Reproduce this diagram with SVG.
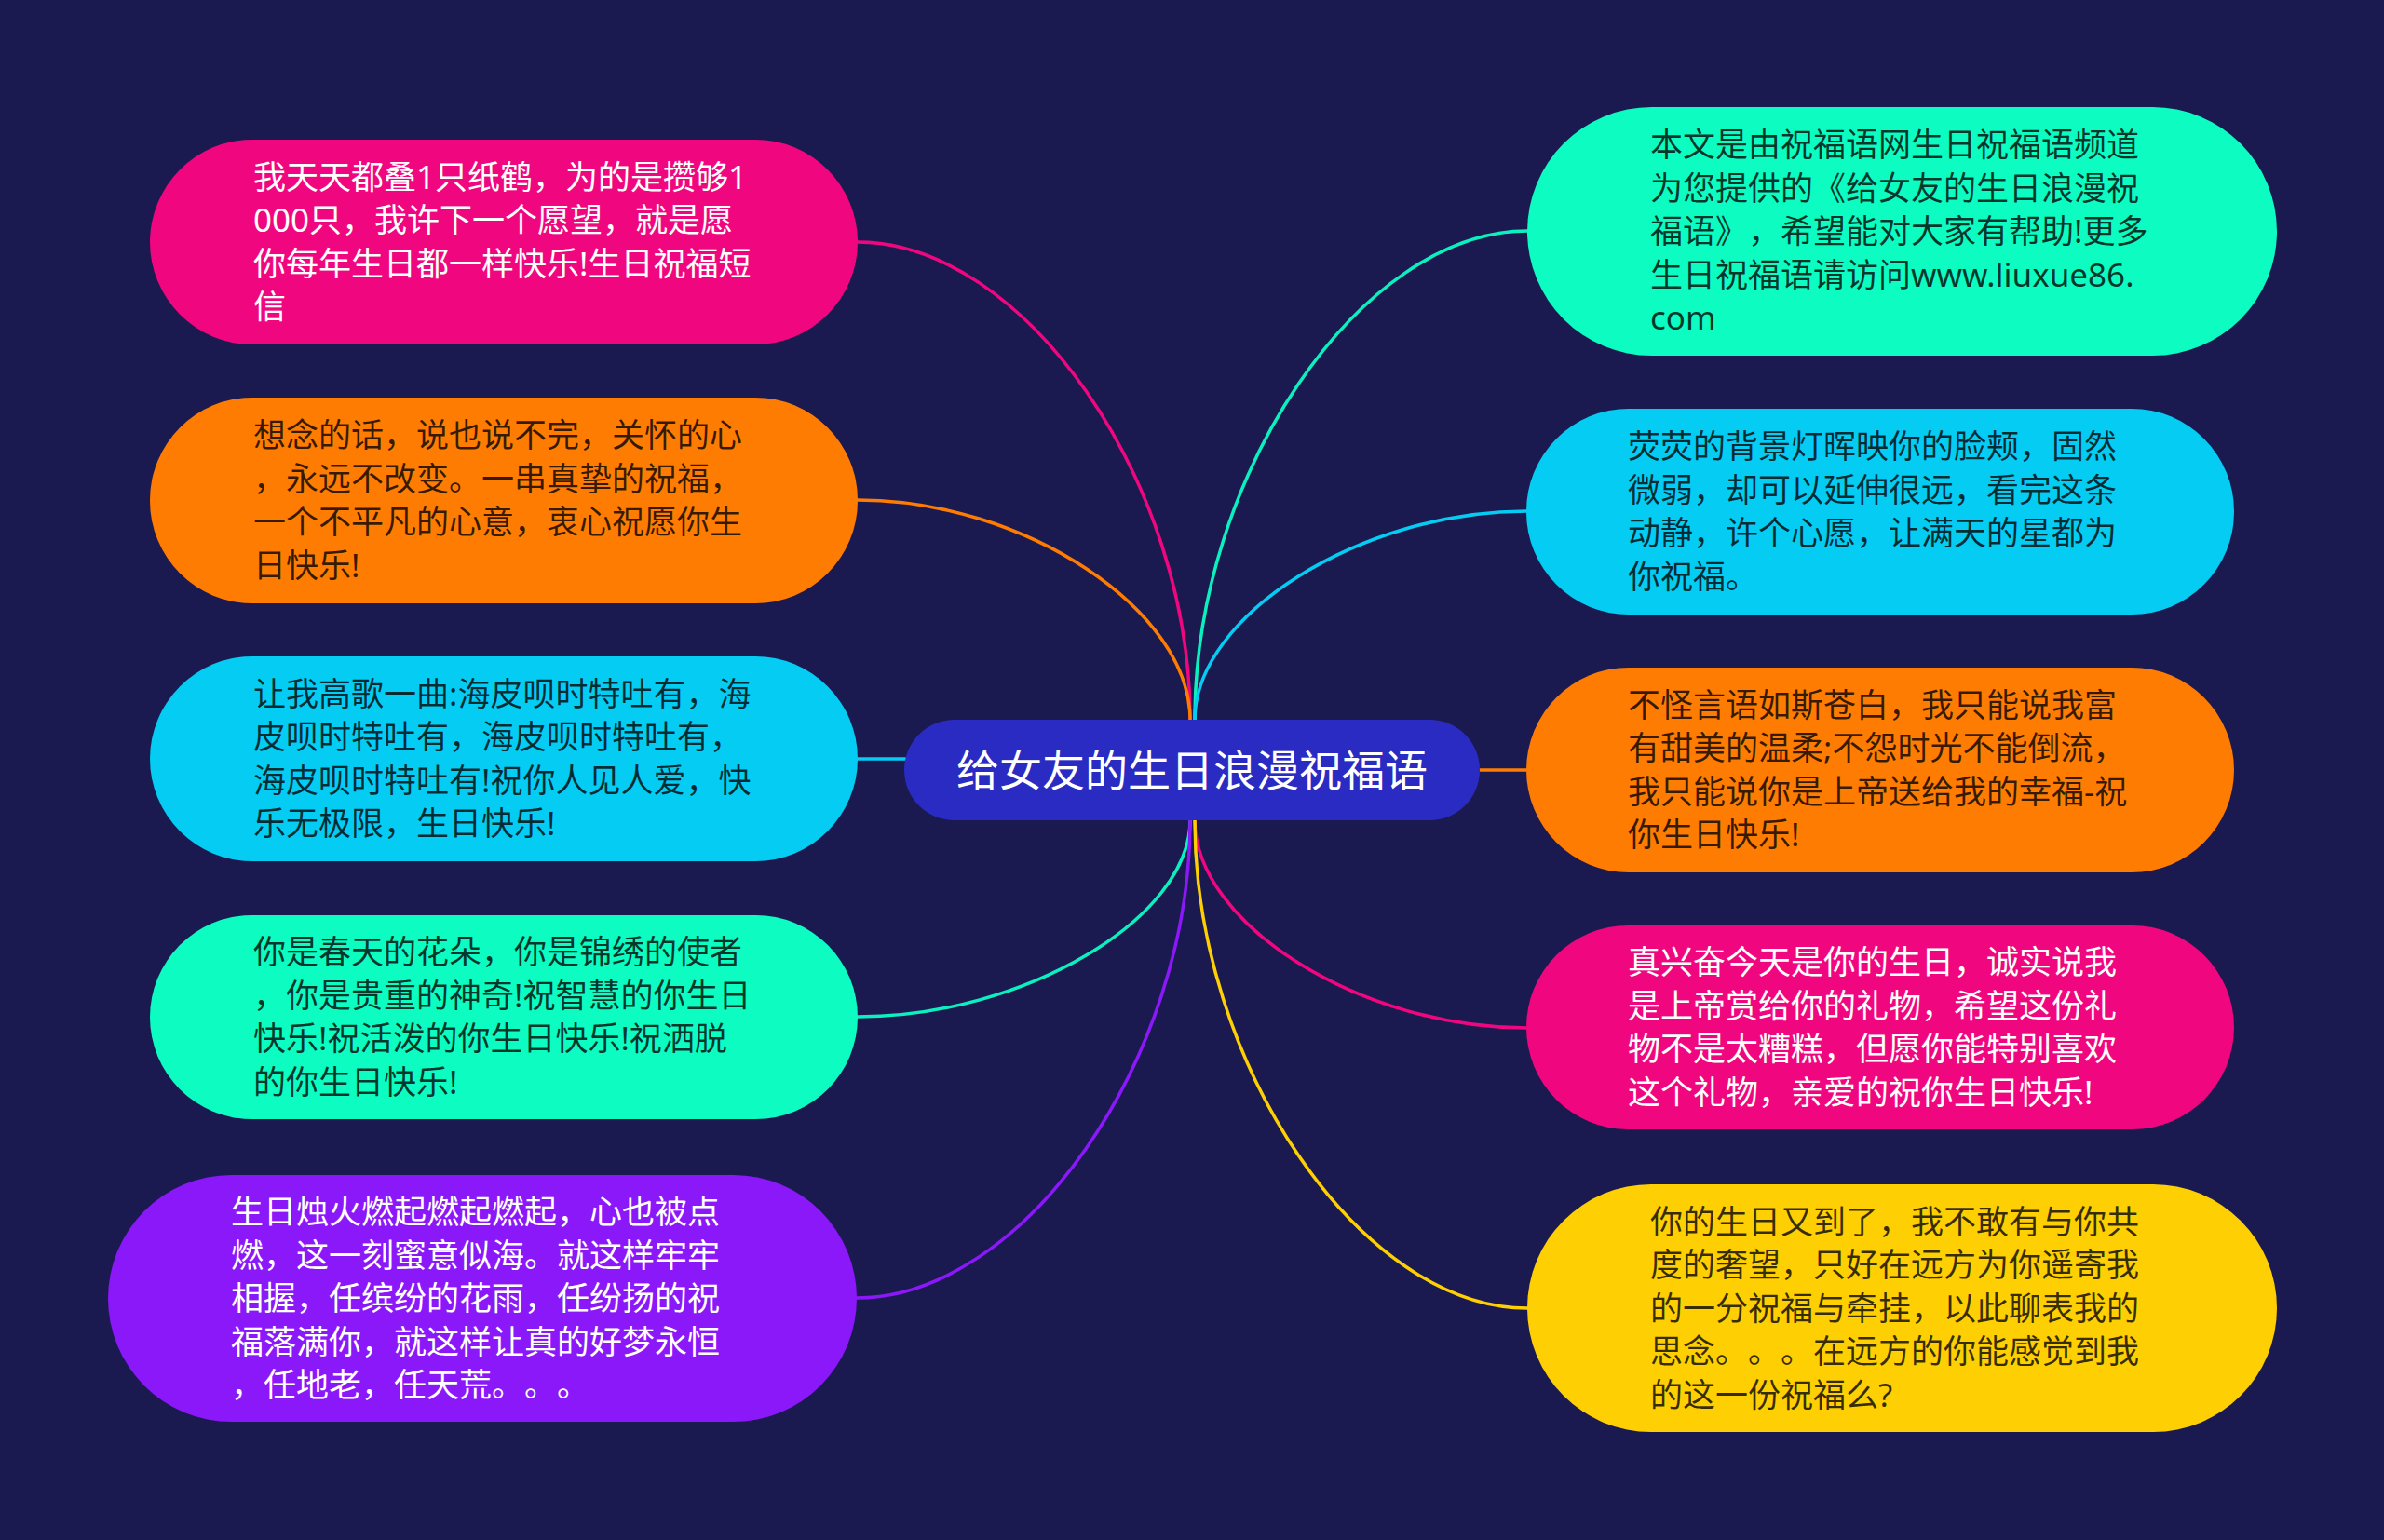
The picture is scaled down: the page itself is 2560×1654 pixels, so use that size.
<svg xmlns="http://www.w3.org/2000/svg" width="2560" height="1654" viewBox="0 0 2560 1654">
<style>
.t{font-family:'Noto Sans','Noto Sans CJK SC',sans-serif;font-size:35px;text-spacing-trim:space-all;font-feature-settings:"chws" 0,"halt" 0}
.w{fill:#ffffff}
.d{fill:#000000;fill-opacity:0.78}
.c{fill:none;stroke-width:3.5;stroke-linecap:round}
</style>
<rect width="2560" height="1654" fill="#1b1a50"/>
<g id="connectors">
<path class="c" stroke="#f0077f" d="M921,260 C1099.5,260 1278,516.5 1278,773"/>
<path class="c" stroke="#ff7c03" d="M921,537 C1099.5,537 1278,655 1278,773"/>
<path class="c" stroke="#05ccf2" d="M921,815 L972,815"/>
<path class="c" stroke="#0cf0c0" d="M921,1092 C1099.5,1092 1278,986.5 1278,881"/>
<path class="c" stroke="#8a18f8" d="M920,1394 C1099,1394 1278,1137.5 1278,881"/>
<path class="c" stroke="#0cf0c0" d="M1640,248 C1461.5,248 1283,510.5 1283,773"/>
<path class="c" stroke="#05ccf2" d="M1639,549 C1461,549 1283,661 1283,773"/>
<path class="c" stroke="#ff7c03" d="M1588,827 L1639,827"/>
<path class="c" stroke="#f0077f" d="M1639,1104 C1461,1104 1283,992.5 1283,881"/>
<path class="c" stroke="#fed004" d="M1640,1405 C1461.5,1405 1283,1143 1283,881"/>
</g>
<g id="center">
<rect x="971" y="773" width="618" height="108" rx="54" fill="#2a2bc2"/>
<text class="t w" x="1280" y="844" text-anchor="middle" style="font-size:46px">给女友的生日浪漫祝福语</text>
</g>
<g id="node-l1">
<rect x="161" y="150" width="760" height="220" rx="110" fill="#f0077f"/>
<text class="t w" x="272" y="202.75"><tspan x="272">我天天都叠1只纸鹤，为的是攒够1</tspan><tspan x="272" dy="46.5">000只，我许下一个愿望，就是愿</tspan><tspan x="272" dy="46.5">你每年生日都一样快乐!生日祝福短</tspan><tspan x="272" dy="46.5">信</tspan></text>
</g>
<g id="node-l2">
<rect x="161" y="427" width="760" height="221" rx="110" fill="#ff7c03"/>
<text class="t d" x="272" y="480.25"><tspan x="272">想念的话，说也说不完，关怀的心</tspan><tspan x="272" dy="46.5">，永远不改变。一串真挚的祝福，</tspan><tspan x="272" dy="46.5">一个不平凡的心意，衷心祝愿你生</tspan><tspan x="272" dy="46.5">日快乐!</tspan></text>
</g>
<g id="node-l3">
<rect x="161" y="705" width="760" height="220" rx="110" fill="#05ccf2"/>
<text class="t d" x="272" y="757.75"><tspan x="272">让我高歌一曲:海皮呗时特吐有，海</tspan><tspan x="272" dy="46.5">皮呗时特吐有，海皮呗时特吐有，</tspan><tspan x="272" dy="46.5">海皮呗时特吐有!祝你人见人爱，快</tspan><tspan x="272" dy="46.5">乐无极限，生日快乐!</tspan></text>
</g>
<g id="node-l4">
<rect x="161" y="983" width="760" height="219" rx="109.5" fill="#0cfcc2"/>
<text class="t d" x="272" y="1035.25"><tspan x="272">你是春天的花朵，你是锦绣的使者</tspan><tspan x="272" dy="46.5">，你是贵重的神奇!祝智慧的你生日</tspan><tspan x="272" dy="46.5">快乐!祝活泼的你生日快乐!祝洒脱</tspan><tspan x="272" dy="46.5">的你生日快乐!</tspan></text>
</g>
<g id="node-l5">
<rect x="116" y="1262" width="804" height="265" rx="132.5" fill="#8a18f8"/>
<text class="t w" x="248" y="1314"><tspan x="248">生日烛火燃起燃起燃起，心也被点</tspan><tspan x="248" dy="46.5">燃，这一刻蜜意似海。就这样牢牢</tspan><tspan x="248" dy="46.5">相握，任缤纷的花雨，任纷扬的祝</tspan><tspan x="248" dy="46.5">福落满你，就这样让真的好梦永恒</tspan><tspan x="248" dy="46.5">，任地老，任天荒。</tspan><tspan x="563">。</tspan><tspan x="598">。</tspan></text>
</g>
<g id="node-r1">
<rect x="1640" y="115" width="805" height="267" rx="133.5" fill="#0cfcc2"/>
<text class="t d" x="1772" y="168"><tspan x="1772">本文是由祝福语网生日祝福语频道</tspan><tspan x="1772" dy="46.5">为您提供的《给女友的生日浪漫祝</tspan><tspan x="1772" dy="46.5">福语》</tspan><tspan x="1877">，希望能对大家有帮助!更多</tspan><tspan x="1772" dy="46.5">生日祝福语请访问www.liuxue86.</tspan><tspan x="1772" dy="46.5">com</tspan></text>
</g>
<g id="node-r2">
<rect x="1639" y="439" width="760" height="221" rx="110" fill="#05ccf2"/>
<text class="t d" x="1748" y="492.25"><tspan x="1748">荧荧的背景灯晖映你的脸颊，固然</tspan><tspan x="1748" dy="46.5">微弱，却可以延伸很远，看完这条</tspan><tspan x="1748" dy="46.5">动静，许个心愿，让满天的星都为</tspan><tspan x="1748" dy="46.5">你祝福。</tspan></text>
</g>
<g id="node-r3">
<rect x="1639" y="717" width="760" height="220" rx="110" fill="#ff7c03"/>
<text class="t d" x="1748" y="769.75"><tspan x="1748">不怪言语如斯苍白，我只能说我富</tspan><tspan x="1748" dy="46.5">有甜美的温柔;不怨时光不能倒流，</tspan><tspan x="1748" dy="46.5">我只能说你是上帝送给我的幸福-祝</tspan><tspan x="1748" dy="46.5">你生日快乐!</tspan></text>
</g>
<g id="node-r4">
<rect x="1639" y="994" width="760" height="219" rx="109.5" fill="#f0077f"/>
<text class="t w" x="1748" y="1046.25"><tspan x="1748">真兴奋今天是你的生日，诚实说我</tspan><tspan x="1748" dy="46.5">是上帝赏给你的礼物，希望这份礼</tspan><tspan x="1748" dy="46.5">物不是太糟糕，但愿你能特别喜欢</tspan><tspan x="1748" dy="46.5">这个礼物，亲爱的祝你生日快乐!</tspan></text>
</g>
<g id="node-r5">
<rect x="1640" y="1272" width="805" height="266" rx="133" fill="#fed004"/>
<text class="t d" x="1772" y="1324.5"><tspan x="1772">你的生日又到了，我不敢有与你共</tspan><tspan x="1772" dy="46.5">度的奢望，只好在远方为你遥寄我</tspan><tspan x="1772" dy="46.5">的一分祝福与牵挂，以此聊表我的</tspan><tspan x="1772" dy="46.5">思念。</tspan><tspan x="1877">。</tspan><tspan x="1912">。</tspan><tspan x="1947">在远方的你能感觉到我</tspan><tspan x="1772" dy="46.5">的这一份祝福么?</tspan></text>
</g>
</svg>
